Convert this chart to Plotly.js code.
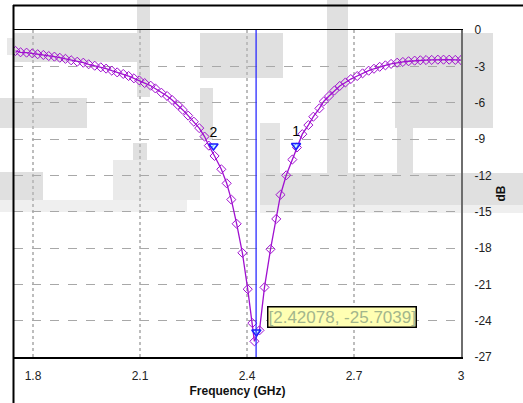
<!DOCTYPE html>
<html>
<head>
<meta charset="utf-8">
<script src="https://cdn.plot.ly/plotly-3.0.1.min.js"></script>
<style>html,body{margin:0;padding:0;background:#fff;}#chart{width:523px;height:403px;}</style>
</head>
<body>
<div id="chart"></div>
<script>
// Measured sweep (GHz) and return loss (dB)
var freqGHz = [1.751,1.765,1.782,1.798,1.813,1.829,1.844,1.86,1.875,1.891,1.907,1.924,1.941,1.956,1.973,1.99,2.005,2.021,2.036,2.053,2.068,2.083,2.098,2.113,2.13,2.143,2.16,2.176,2.19,2.206,2.22,2.235,2.251,2.266,2.281,2.293,2.309,2.328,2.343,2.356,2.371,2.387,2.402,2.415,2.42078,2.435,2.449,2.466,2.482,2.494,2.51,2.527,2.54,2.555,2.572,2.586,2.603,2.615,2.63,2.645,2.66,2.676,2.691,2.709,2.724,2.741,2.756,2.772,2.788,2.804,2.821,2.837,2.853,2.87,2.886,2.902,2.918,2.935,2.951,2.967,2.984,3.0];
var s11dB = [-1.73,-1.84,-1.87,-1.93,-2.0,-2.06,-2.15,-2.2,-2.29,-2.38,-2.5,-2.62,-2.7,-2.83,-2.95,-3.08,-3.19,-3.36,-3.5,-3.63,-3.8,-3.99,-4.16,-4.38,-4.6,-4.82,-5.18,-5.45,-5.78,-6.19,-6.6,-7.07,-7.57,-8.1,-8.8,-9.55,-10.4,-11.5,-12.66,-14.0,-16.0,-18.4,-21.4,-24.2,-25.7039,-24.8,-21.25,-18.1,-15.6,-13.6,-12.0,-10.7,-9.7,-8.6,-7.85,-7.16,-6.47,-5.9,-5.45,-5.0,-4.62,-4.33,-4.05,-3.8,-3.58,-3.36,-3.2,-3.04,-2.92,-2.8,-2.7,-2.64,-2.58,-2.53,-2.5,-2.48,-2.47,-2.45,-2.45,-2.45,-2.47,-2.48];

// Cursor markers
var markerFreq = [2.5375, 2.306, 2.4262];
var markerDb = [-9.54, -9.58, -24.94];
var markerLabels = ['1', '2', ''];
var cursorFreq = 2.4255;
var readoutText = '[2.42078, -25.7039]';

var xTicks = [1.8, 2.1, 2.4, 2.7, 3];
var xTickText = ['1.8', '2.1', '2.4', '2.7', '3'];
var yTicks = [0, -3, -6, -9, -12, -15, -18, -21, -24, -27];
var yTickText = ['0', '-3', '-6', '-9', '-12', '-15', '-18', '-21', '-24', '-27'];

var FONT = 'Liberation Sans, Arial, sans-serif';
var ML = 14, MR = 62, MT = 30, MB = 46, W = 523, H = 403;
var PW = W - ML - MR, PH = H - MT - MB;
function px(x) { return (x - ML) / PW; }
function py(y) { return 1 - (y - MT) / PH; }

// faint background watermark blocks (pixel boxes)
var wm = [
  [13, 33, 140, 62, '#e0e0e0'], [7, 38, 13, 55, '#e8e8e8'],
  [137, 0, 150, 97, '#e0e0e0'],
  [200, 33, 283, 78, '#e0e0e0'],
  [0, 98, 87, 128, '#e0e0e0'],
  [200, 88, 213, 140, '#e0e0e0'],
  [133, 143, 147, 200, '#e0e0e0'], [113, 160, 200, 200, '#eaeaea'],
  [0, 172, 43, 200, '#e0e0e0'],
  [327, 0, 348, 173, '#e0e0e0'],
  [395, 33, 493, 128, '#e0e0e0'],
  [397, 128, 413, 173, '#e0e0e0'],
  [260, 123, 280, 200, '#e4e4e4'],
  [260, 173, 523, 205, '#e0e0e0'],
  [0, 200, 187, 212, '#efefef'], [260, 205, 523, 213, '#efefef']
];
var shapes = wm.map(function (r) {
  return {type: 'rect', xref: 'paper', yref: 'paper', layer: 'below',
    x0: px(r[0]), x1: px(r[2]), y0: py(r[3]), y1: py(r[1]),
    fillcolor: r[4], line: {width: 0}};
});
// outer frame: top and left edges
shapes.push({type: 'line', xref: 'paper', yref: 'paper', x0: px(13), x1: px(523), y0: py(5.5), y1: py(5.5), line: {color: '#000', width: 2}});
shapes.push({type: 'line', xref: 'paper', yref: 'paper', x0: px(13.5), x1: px(13.5), y0: py(5), y1: py(403), line: {color: '#000', width: 2}});
// cursor line
shapes.push({type: 'line', xref: 'x', yref: 'paper', x0: cursorFreq, x1: cursorFreq, y0: 0, y1: 1, line: {color: '#2b2bff', width: 1.3}});

var traces = [
  {x: freqGHz, y: s11dB, type: 'scatter', mode: 'lines+markers',
   line: {color: '#a010d0', width: 1.3},
   marker: {symbol: 'diamond-open', size: 7, color: '#a010d0', line: {width: 1, color: '#a010d0'}},
   hoverinfo: 'skip'},
  {x: markerFreq, y: markerDb, type: 'scatter', mode: 'markers+text',
   text: markerLabels, textposition: 'top center',
   textfont: {family: FONT, size: 14, color: '#000'},
   marker: {symbol: 'triangle-down', size: 8, color: 'rgba(140,255,255,0.55)', line: {color: '#1a1aff', width: 1.5}},
   hoverinfo: 'skip'}
];

var layout = {
  width: W, height: H,
  margin: {l: ML, r: MR, t: MT, b: MB, pad: 0},
  paper_bgcolor: '#ffffff', plot_bgcolor: 'rgba(0,0,0,0)',
  showlegend: false, hovermode: false,
  font: {family: FONT, size: 12, color: '#222'},
  xaxis: {
    range: [1.7467, 3.0], tickvals: xTicks, ticktext: xTickText,
    showgrid: true, griddash: 'dot', gridcolor: '#bdbdbd', gridwidth: 2,
    showline: true, linecolor: '#000', linewidth: 1.5, mirror: true,
    ticks: '', ticklabelstandoff: 7, zeroline: false,
    tickfont: {family: FONT, size: 12, color: '#222'},
    title: {text: '<b>Frequency (GHz)</b>', font: {family: FONT, size: 12, color: '#111'}, standoff: 4}
  },
  yaxis: {
    side: 'right', range: [-27, 0], tickvals: yTicks, ticktext: yTickText,
    showgrid: true, griddash: 'dash', gridcolor: '#a8a8a8', gridwidth: 1,
    showline: true, linecolor: '#6e6e6e', linewidth: 2, mirror: false,
    ticks: '', ticklabelstandoff: 9, zeroline: false,
    tickfont: {family: FONT, size: 12, color: '#222'},
    title: {text: '<b>dB</b>', font: {family: FONT, size: 12, color: '#111'}, standoff: 6}
  },
  shapes: shapes,
  annotations: [{
    xref: 'paper', yref: 'paper', x: px(267), y: py(317), xanchor: 'left', yanchor: 'middle',
    text: readoutText, showarrow: false,
    font: {family: FONT, size: 17, color: '#a3b68c'},
    bgcolor: '#ffffb3', bordercolor: '#000', borderwidth: 1.5, borderpad: 0
  }]
};

Plotly.newPlot('chart', traces, layout, {staticPlot: true, displayModeBar: false});
</script>
</body>
</html>
